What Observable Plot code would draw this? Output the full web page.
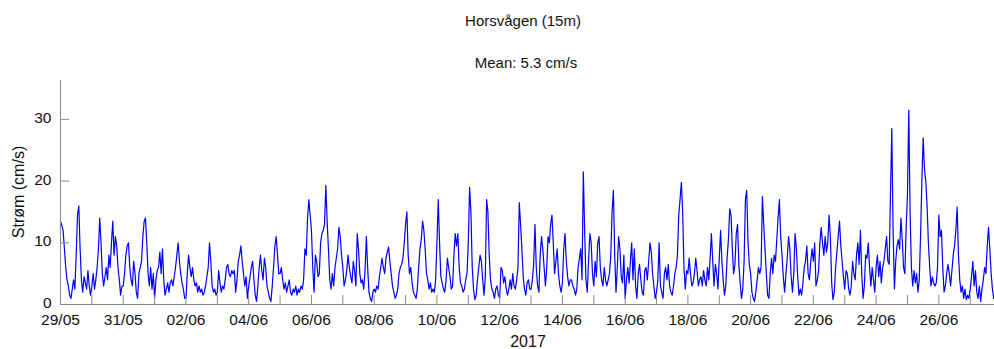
<!DOCTYPE html>
<html><head><meta charset="utf-8">
<script src="https://cdn.jsdelivr.net/npm/d3@7"></script>
<script src="https://cdn.jsdelivr.net/npm/@observablehq/plot@0.6"></script>
<style>
body{margin:0;background:#fff;}
#wrap{position:relative;width:994px;height:349px;font-family:"Liberation Sans",Arial,sans-serif;color:#111;}
.t{position:absolute;white-space:nowrap;transform:translate(-50%,-50%);font-size:15px;line-height:1;}
</style></head><body>
<div id="wrap">
<div id="chart"></div>
<div class="t" style="left:523px;top:20px">Horsvågen (15m)</div>
<div class="t" style="left:526px;top:62px">Mean: 5.3 cm/s</div>
<div class="t" style="left:19px;top:192px;transform:translate(-50%,-50%) rotate(-90deg);font-size:16px">Strøm (cm/s)</div>
<div class="t" style="left:528px;top:342px;font-size:16px">2017</div>
</div>
<script>
// hourly current speed (cm/s), one array per day, starting 29/05/2017 00:00
const d0529=[13.5,12.8,12,9,6,4,3,1.5,1,2.5,4,2.5,8,14.5,16,9,4,2,4.5,3.5,2.5,5.5,3,1.5];
const d0530=[3,5,2.5,4,6,9,14,10,5,3,4.5,6,4,8,6,10,13.5,8,11,9.5,6,4,1.5,3];
const d0531=[3,5,8,9.5,10,6,4,3,7,5,2,1,5,6,7,11,13.5,14,10,5,3,6,2.5,5];
const d0601=[1,4,5.5,6,8.5,5,9,4,1.5,2.5,3.5,2,3.5,4,3,4.5,6,8,10,7,5,3.5,2.5,1];
const d0602=[1,5,8,6,4.5,6,4,3,3.5,2,3,2,2.5,1.5,2,3,4.5,6,10,7,3,2,2.5,1.5];
const d0603=[2,5.5,3.5,2,3,2.5,4,6,6.5,5,4.5,5.5,5,5.5,2,4,7,8,9.5,7,5,3,4.5,1];
const d0604=[3,4.5,6,7,4,1.5,0.5,3,6,8,5.5,4,7.5,6,3,2,1,0.5,3,6,9.5,11,8,5];
const d0605=[5,6,4,2.5,3.5,2,3,4,2,1.5,2.5,2,3,1.5,2.5,2,3,2.5,4,9,8,14,17,14.5];
const d0606=[12,6,2,8,7,4.5,5,10,11.5,12,13,19.3,13.5,9,4,2.5,5,3,6,7.5,9,12.5,11,8];
const d0607=[6,3,4,5.5,8,6,4.5,3.5,7,5.5,3,11.5,9,5,3.5,4,2.5,5.5,11,6,2,1,0.5,2];
const d0608=[2.5,2,3,2.5,4.5,6,7.5,6,5,7.5,8.5,9.3,7,5,3,2,1,1.5,2.5,5,6,6.5,7.5,10];
const d0609=[13,15,8,5,6,3.5,2,1.5,1,2.5,6,9,10.5,13.5,12,9,5,4,2.5,3.5,2,2.5,2,4];
const d0610=[10,17,10,4.5,3.5,2.5,2,4,7.5,6,4.5,2.5,3,8,11.5,9.5,11.5,6,3.5,3,2,2.5,4,5];
const d0611=[10,19,15,6,2.5,0.8,1.5,4,6,8,7,4,1.5,4.5,17,15,8,4,2.5,2,1,2.5,3,1.5];
const d0612=[1,6,5.5,3.5,4.5,2.5,1.5,2.5,4,2.5,5,3,2.5,4,6,16.5,13,9,4.5,2.5,1.5,3.5,4,2.5];
const d0613=[2.5,4,6.5,13,6,3,2,8,11,9,6,3,6,11,10,13,14.5,10,5,7,9,5,3,2];
const d0614=[3.5,9,11.5,7,4.5,3,4,4,3,2.5,1.5,2.5,6,7.5,9,4,21.5,12,4,2,7,11.5,10,5];
const d0615=[3,7,4.5,10,11,6,4,3,6,4,3,4,5,8,15,18.5,8,2,6,11,9,4.5,3.5,8];
const d0616=[1,4,6,3.5,7,10,4,9,3,1,5,6.5,4,2,1.5,5.5,6,4,7,10,8.5,5,3,1];
const d0617=[2,4,10,3,2,1,5,6,4,6.5,3,2,1.5,3,5,6,8,14.5,17,19.8,15,6,2.5,5.5];
const d0618=[5,7.5,5,3,3.5,5,7.5,5.5,3,4,4.5,3,5.5,4,3,6,4,7.5,11.5,7,3,6.5,5,2.5];
const d0619=[7.5,12,7,4,1.5,3,7.5,10.5,15.5,14.5,9,5,6.5,11.5,13,6.5,3.5,1,2.5,7,17,18.5,10,6.5];
const d0620=[5,2,1,0.5,2,4,6,5,6,17.5,13,9,5,1.5,1,5,7.5,5,8,7,10.5,14,17,11];
const d0621=[8,4.5,2,5,7.5,11,9,4.5,2,5,11.5,9,4.5,1.5,2.5,1.5,3.5,6,7,9.5,5,4,7,9];
const d0622=[7,10,3,4,5.5,10,12.5,10,8,11,8.5,10,14.5,11,3.5,0.8,2,6,8.5,11,13.5,9.5,7,4.5];
const d0623=[2.5,5.5,5,2.5,1.5,3,7,5,4,8,10,6.5,12,5,1,3,8,7.5,10,6,3,6,4,2];
const d0624=[6,8,4.5,7,3.5,6,7,9,11,7,6.5,18,28.5,12,2.5,7,9.5,10.5,9,14,10.5,6,5,12.5];
const d0625=[18,31.5,15,6,3,5.5,3.5,5,2,4,11,20,27,22,20,16,10,6,3,4.5,3.5,3,3.5,6];
const d0626=[14.5,11,12,6,2,3,5,6.5,5,3,5.5,8,9.5,12,15.8,8,4,2,3,1,2.5,0.8,1.5,1];
const d0627=[2.5,4.5,7,3,5.5,2,1,3,0.5,2.5,4,6,5,9.5,12.5,9,5,2.5,1];

const days=[d0529,d0530,d0531,d0601,d0602,d0603,d0604,d0605,d0606,d0607,d0608,d0609,d0610,d0611,d0612,d0613,d0614,d0615,d0616,d0617,d0618,d0619,d0620,d0621,d0622,d0623,d0624,d0625,d0626,d0627];
const yTicks=[0,10,20,30];
const yMax=36.3;

const start=new Date(Date.UTC(2017,4,29));
const HOUR=3600e3;
const xEnd=new Date(start.getTime()+29.774*24*HOUR);
const data=days.flat().map((v,i)=>({t:new Date(start.getTime()+i*HOUR),v}));
const dayTicks=d3.utcDay.range(start,xEnd);
const labelTicks=dayTicks.filter((d,i)=>i%2===0);
const axisColor="#8a8a8a";

const chart=Plot.plot({
  width:994,height:349,
  marginLeft:60,marginRight:0,marginTop:80,marginBottom:45,
  style:{fontFamily:'"Liberation Sans",Arial,sans-serif',fontSize:"15px",color:"#111",background:"#fff",overflow:"visible"},
  x:{type:"utc",domain:[start,xEnd],axis:null},
  y:{domain:[0,yMax],axis:null},
  marks:[
    Plot.lineY(data,{x:"t",y:"v",stroke:"#0000ff",strokeWidth:1.2}),
    Plot.ruleY([0],{stroke:axisColor}),
    Plot.ruleX([start],{stroke:axisColor}),
    Plot.ruleX(dayTicks,{x:d=>d,y1:()=>0,y2:()=>0,insetTop:-9,stroke:axisColor}),
    Plot.ruleY(yTicks,{y:d=>d,x1:()=>start,x2:()=>start,insetRight:-9,stroke:axisColor}),
    Plot.axisX(labelTicks,{tickSize:0,tickPadding:9,tickFormat:d3.utcFormat("%d/%m"),label:null,fontSize:15.5}),
    Plot.axisY(yTicks,{tickSize:0,tickPadding:9,dy:-1.5,label:null,fontSize:15.5})
  ]
});
document.getElementById("chart").appendChild(chart);
</script>
</body></html>
